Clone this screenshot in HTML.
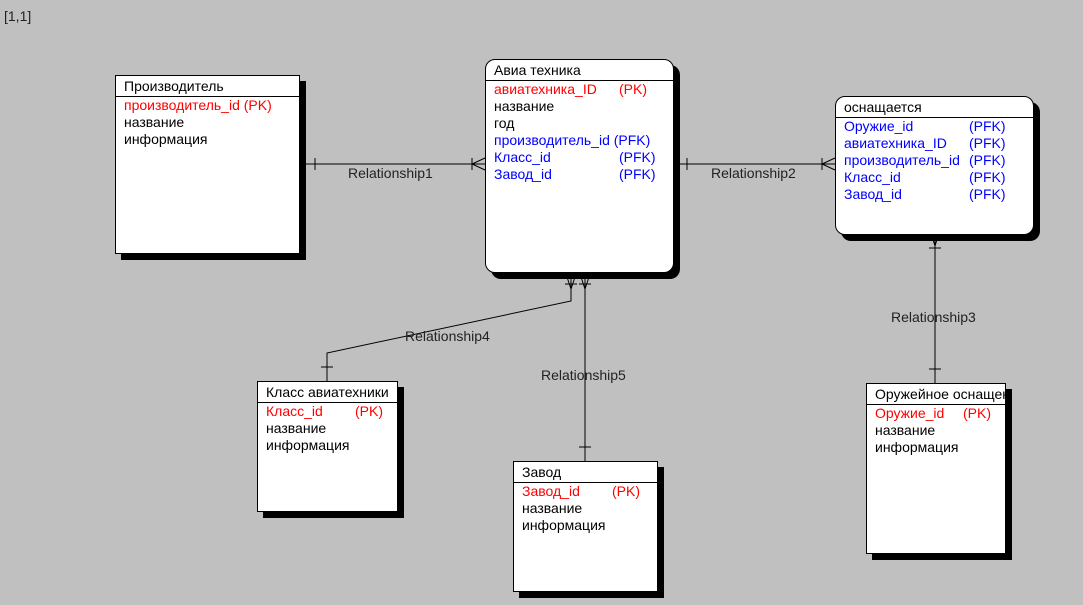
<!DOCTYPE html>
<html><head><meta charset="utf-8"><style>
body{margin:0;width:1083px;height:605px;background:#c0c0c0;position:relative;overflow:hidden;font-family:"Liberation Sans",Arial,sans-serif;font-size:14px;}
.b{position:absolute;background:#fff;border:1px solid #000;box-shadow:6px 6px 0 #000;overflow:hidden;}
.r{border-radius:10px;}
.h{height:20px;line-height:20px;border-bottom:1px solid #000;padding-left:8px;white-space:nowrap;overflow:hidden;}
.rows{padding:0 0 0 8px;line-height:17px;white-space:nowrap;}
.red{color:#ff0000}.blu{color:#0000ff}
.t{position:absolute;display:inline-block}
.lbl{position:absolute;color:#222;white-space:nowrap}
</style></head><body>
<div class="lbl" style="left:4px;top:8px">[1,1]</div>
<svg width="1083" height="605" style="position:absolute;left:0;top:0">
<g stroke="#000" stroke-width="1" fill="none">
<line x1="298" y1="164" x2="485" y2="164"/>
<line x1="315" y1="158" x2="315" y2="170"/>
<line x1="472" y1="158" x2="472" y2="170"/>
<polyline points="485,158 472,164 485,170"/>
<line x1="672" y1="164" x2="835" y2="164"/>
<line x1="687" y1="158" x2="687" y2="170"/>
<line x1="822" y1="158" x2="822" y2="170"/>
<polyline points="835,158 822,164 835,170"/>
<line x1="935" y1="233" x2="935" y2="383"/>
<line x1="929" y1="248" x2="941" y2="248"/>
<line x1="929" y1="369" x2="941" y2="369"/>
<polyline points="931,233 935,246 939,233"/>
<polyline points="571,277 571,301 327,353 327,381"/>
<line x1="565" y1="284" x2="577" y2="284"/>
<polyline points="567,277 571,289 575,277"/>
<line x1="321" y1="367" x2="333" y2="367"/>
<line x1="585" y1="277" x2="585" y2="461"/>
<line x1="579" y1="284" x2="591" y2="284"/>
<polyline points="581,277 585,289 589,277"/>
<line x1="579" y1="447" x2="591" y2="447"/>
</g></svg>
<div class="lbl" style="left:348px;top:165px">Relationship1</div>
<div class="lbl" style="left:711px;top:165px">Relationship2</div>
<div class="lbl" style="left:891px;top:309px">Relationship3</div>
<div class="lbl" style="left:405px;top:328px">Relationship4</div>
<div class="lbl" style="left:541px;top:367px">Relationship5</div>

<div class="b" style="left:115px;top:75px;width:183px;height:177px">
<div class="h">Производитель</div>
<div class="rows"><div class="red">производитель_id (PK)</div><div>название</div><div>информация</div></div></div>

<div class="b r" style="left:485px;top:59px;width:187px;height:212px">
<div class="h">Авиа техника</div>
<div class="rows" style="position:relative">
<div class="red">авиатехника_ID<span class="t" style="position:absolute;left:133px">(PK)</span></div>
<div>название</div><div>год</div>
<div class="blu">производитель_id (PFK)</div>
<div class="blu">Класс_id<span class="t" style="position:absolute;left:133px">(PFK)</span></div>
<div class="blu">Завод_id<span class="t" style="position:absolute;left:133px">(PFK)</span></div>
</div></div>

<div class="b r" style="left:835px;top:96px;width:197px;height:137px">
<div class="h">оснащается</div>
<div class="rows" style="position:relative">
<div class="blu">Оружие_id<span class="t" style="position:absolute;left:133px">(PFK)</span></div>
<div class="blu">авиатехника_ID<span class="t" style="position:absolute;left:133px">(PFK)</span></div>
<div class="blu">производитель_id<span class="t" style="position:absolute;left:133px">(PFK)</span></div>
<div class="blu">Класс_id<span class="t" style="position:absolute;left:133px">(PFK)</span></div>
<div class="blu">Завод_id<span class="t" style="position:absolute;left:133px">(PFK)</span></div>
</div></div>

<div class="b" style="left:257px;top:381px;width:139px;height:129px">
<div class="h">Класс авиатехники</div>
<div class="rows" style="position:relative"><div class="red">Класс_id<span class="t" style="position:absolute;left:97px">(PK)</span></div><div>название</div><div>информация</div></div></div>

<div class="b" style="left:513px;top:461px;width:143px;height:129px">
<div class="h">Завод</div>
<div class="rows" style="position:relative"><div class="red">Завод_id<span class="t" style="position:absolute;left:98px">(PK)</span></div><div>название</div><div>информация</div></div></div>

<div class="b" style="left:866px;top:383px;width:138px;height:169px">
<div class="h">Оружейное оснащение</div>
<div class="rows" style="position:relative"><div class="red">Оружие_id<span class="t" style="position:absolute;left:96px">(PK)</span></div><div>название</div><div>информация</div></div></div>
</body></html>
